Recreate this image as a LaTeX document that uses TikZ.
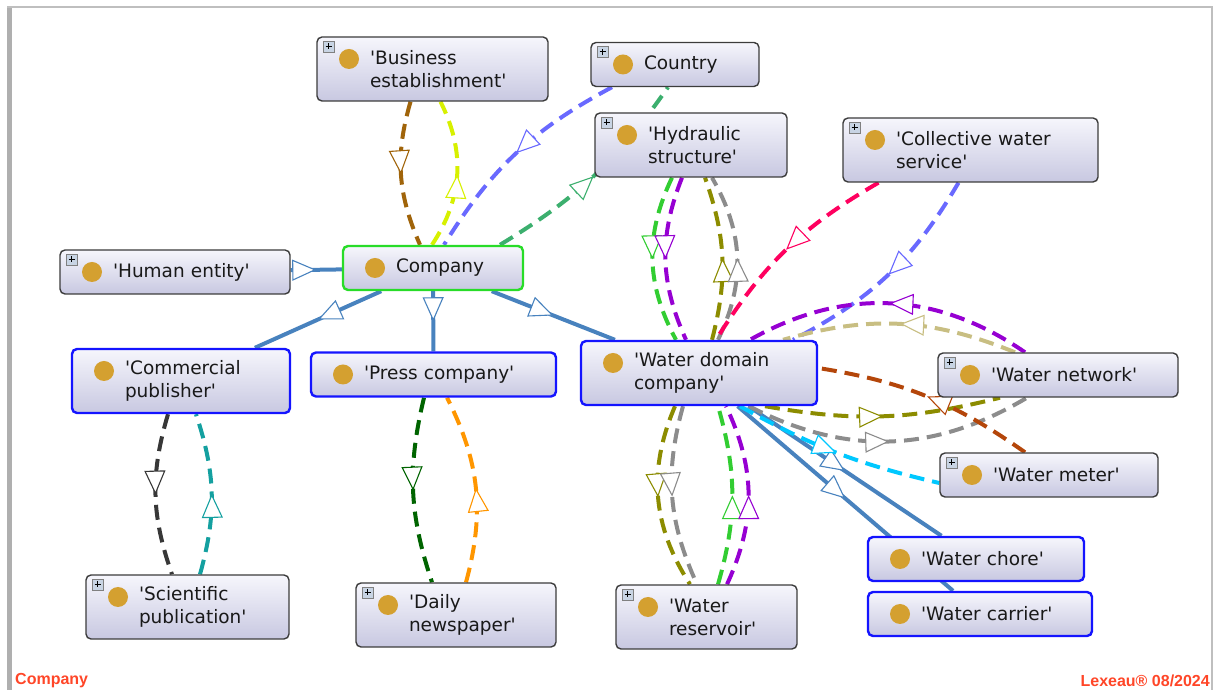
\documentclass[tikz,border=0pt]{standalone}
\usepackage{fontspec}
\newfontfamily\clsfont{DejaVu Sans}
\newfontfamily\footfont{Liberation Sans}
\usetikzlibrary{arrows.meta,decorations.markings}

\definecolor{clsgray}{RGB}{60,60,60}
\definecolor{clsblue}{RGB}{20,20,255}
\definecolor{clsgreen}{RGB}{40,220,40}
\definecolor{boxtop}{RGB}{246,246,252}
\definecolor{boxbot}{RGB}{200,200,225}
\definecolor{dotgold}{RGB}{212,160,48}
\definecolor{clstext}{RGB}{25,25,25}
\definecolor{plusfill}{RGB}{200,212,228}
\definecolor{framegray}{RGB}{175,175,175}
\definecolor{footred}{RGB}{255,70,40}
\definecolor{genblue}{RGB}{72,130,190}
\definecolor{relbrown}{RGB}{160,100,10}
\definecolor{rellime}{RGB}{215,240,0}
\definecolor{relblue}{RGB}{105,105,255}
\definecolor{relsea}{RGB}{60,175,110}
\definecolor{relgreen}{RGB}{50,205,50}
\definecolor{relpurple}{RGB}{150,0,210}
\definecolor{relolive}{RGB}{140,140,0}
\definecolor{relgray}{RGB}{140,140,140}
\definecolor{relpink}{RGB}{255,0,95}
\definecolor{relkhaki}{RGB}{200,190,130}
\definecolor{relrust}{RGB}{180,70,10}
\definecolor{relcyan}{RGB}{0,200,255}
\definecolor{reldark}{RGB}{55,55,55}
\definecolor{relteal}{RGB}{20,160,160}
\definecolor{reldkgreen}{RGB}{0,100,0}
\definecolor{relorange}{RGB}{255,150,0}

\pgfdeclarelayer{edges}
\pgfsetlayers{edges,main}

\tikzset{
  cls/.style={draw=clsgray, line width=1.4pt, rounded corners=5pt,
    top color=boxtop, bottom color=boxbot, text=clstext,
    inner xsep=0pt, align=left, text width=#1, minimum height=44pt,
    font={\clsfont\fontsize{18.5}{23}\selectfont},
    execute at begin node={\leftskip=53pt\relax}, dotted},
  tall/.style={minimum height=64pt},
  blueline/.style={draw=clsblue, line width=2.4pt},
  greenline/.style={draw=clsgreen, line width=2.4pt},
  dotted/.style={path picture={
    \fill[dotgold] ([shift={(32pt,-22pt)}]path picture bounding box.north west) circle[radius=10pt];}},
  plusbox/.style={path picture={
    \fill[dotgold] ([shift={(32pt,-22pt)}]path picture bounding box.north west) circle[radius=10pt];
    \draw[sharp corners, draw=gray, fill=plusfill, line width=.6pt]
      ([shift={(6pt,-4pt)}]path picture bounding box.north west) rectangle ++(11pt,-11pt);
    \draw[sharp corners, black, line width=1pt]
      ([shift={(8.5pt,-9.5pt)}]path picture bounding box.north west) -- ++(6pt,0pt)
      ([shift={(11.5pt,-6.5pt)}]path picture bounding box.north west) -- ++(0pt,-6pt);}},
  decoration={markings, mark=at position .5 with
    {\arrow{Triangle[length=24pt,width=21pt,fill=white,line width=1.1pt]}}},
  midtip/.style={postaction={decorate}},
  gen/.style={color=genblue, line width=4pt, midtip},
  rel/.style={color=#1, line width=4pt, dash pattern=on 15pt off 8pt, midtip},
  foot/.style={font={\footfont\bfseries\fontsize{16}{18}\selectfont}, text=footred, inner sep=0pt}
}

\begin{document}
\begin{tikzpicture}[x=1pt,y=1pt]
\useasboundingbox (0,0) rectangle (1214,690);
% frame
\fill[framegray] (7,0) rectangle (12,683);
\draw[framegray!80, line width=1.5pt] (7,683) -- (1212,683) -- (1212,0);

% classes
\node[cls=231pt, tall, plusbox] (be) at (432.5,621) {'Business\\establishment'};
\node[cls=168pt, plusbox] (country) at (675,625.5) {Country};
\node[cls=192pt, tall, plusbox] (hyd) at (691,545) {'Hydraulic\\structure'};
\node[cls=255pt, tall, plusbox] (cws) at (970.5,540) {'Collective water\\service'};
\node[cls=230pt, plusbox] (human) at (175,418) {'Human entity'};
\node[cls=180pt, greenline] (company) at (433,422) {Company};
\node[cls=218pt, tall, blueline] (compub) at (181,309) {'Commercial\\publisher'};
\node[cls=245pt, blueline] (press) at (433.5,315.5) {'Press company'};
\node[cls=236pt, tall, blueline] (wdc) at (699,317) {'Water domain\\company'};
\node[cls=240pt, plusbox] (wnet) at (1058,315) {'Water network'};
\node[cls=218pt, plusbox] (wmeter) at (1049,215) {'Water meter'};
\node[cls=216pt, blueline] (chore) at (976,131) {'Water chore'};
\node[cls=224pt, blueline] (carrier) at (980,76) {'Water carrier'};
\node[cls=203pt, tall, plusbox] (scipub) at (187.5,83) {'Scientific\\publication'};
\node[cls=200pt, tall, plusbox] (daily) at (456,75) {'Daily\\newspaper'};
\node[cls=181pt, tall, plusbox] (reservoir) at (706.5,73) {'Water\\reservoir'};

% footer
\node[foot, anchor=west] (title) at (15,9) {Company};
\node[foot, anchor=east] (stamp) at (1210,9) {Lexeau® 08/2024};

\begin{pgfonlayer}{edges}
% subclass links
\draw[gen] (human) -- (company);
\draw[gen] (company) -- (compub);
\draw[gen] (company) -- (press);
\draw[gen] (company) -- (wdc);
\draw[gen] (wdc) -- (chore);
\draw[gen] (wdc) -- (carrier);
% properties
\draw[rel=relbrown] ([xshift=-22pt]be.south) to[bend right=20] ([xshift=-13pt]company.north);
\draw[rel=rellime] ([xshift=-1pt]company.north) to[bend right=30] ([xshift=8pt]be.south);
\draw[rel=relblue] ([xshift=-63pt]country.south) to[bend right=15] ([xshift=11pt]company.north);
\draw[rel=relsea] ([xshift=67pt]company.north) to[bend right=12] ([xshift=-7pt]country.south);
\draw[rel=relgreen] ([xshift=-19pt]hyd.south) to[bend right=27] ([xshift=-23pt]wdc.north);
\draw[rel=relpurple] ([xshift=-9pt]hyd.south) to[bend right=23] ([xshift=-13pt]wdc.north);
\draw[rel=relolive] ([xshift=13pt]wdc.north) to[bend right=17] ([xshift=14pt]hyd.south);
\draw[rel=relgray] ([xshift=19pt]wdc.north) to[bend right=28] ([xshift=21pt]hyd.south);
\draw[rel=relpink] ([xshift=-92pt]cws.south) to[bend right=14] ([xshift=17pt]wdc.north);
\draw[rel=relblue] ([xshift=-12pt]cws.south) to[bend left=16] ([xshift=94pt]wdc.north);
\draw[rel=relpurple] ([xshift=-33pt]wnet.north) to[bend right=32] ([xshift=51pt]wdc.north);
\draw[rel=relkhaki] ([xshift=-43pt]wnet.north) to[bend right=19] ([xshift=84pt]wdc.north);
\draw[rel=relolive] ([xshift=66pt]wdc.south) to[bend right=12] ([xshift=-58pt]wnet.south);
\draw[rel=relgray] ([xshift=50pt]wdc.south) to[bend right=29] ([xshift=-31pt]wnet.south);
\draw[rel=relrust] ([xshift=-24pt]wmeter.north) to[bend right=13] ([yshift=5pt]wdc.east);
\draw[rel=relcyan] ([xshift=41pt]wdc.south) to[bend right=8] ([yshift=-8pt]wmeter.west);
\draw[rel=relolive] ([xshift=-24pt]wdc.south) to[bend right=28] ([xshift=-16.5pt]reservoir.north);
\draw[rel=relgray] ([xshift=-16pt]wdc.south) to[bend right=20] ([xshift=-9.5pt]reservoir.north);
\draw[rel=relgreen] ([xshift=11.5pt]reservoir.north) to[bend right=16] ([xshift=19pt]wdc.south);
\draw[rel=relpurple] ([xshift=20.5pt]reservoir.north) to[bend right=25] ([xshift=27pt]wdc.south);
\draw[rel=reldark] ([xshift=-13pt]compub.south) to[bend right=18] ([xshift=-15.5pt]scipub.north);
\draw[rel=relteal] ([xshift=12.5pt]scipub.north) to[bend right=17] ([xshift=15pt]compub.south);
\draw[rel=reldkgreen] ([xshift=-9.5pt]press.south) to[bend right=16] ([xshift=-24pt]daily.north);
\draw[rel=relorange] ([xshift=10pt]daily.north) to[bend right=21] ([xshift=13.5pt]press.south);
\end{pgfonlayer}
\end{tikzpicture}
\end{document}
